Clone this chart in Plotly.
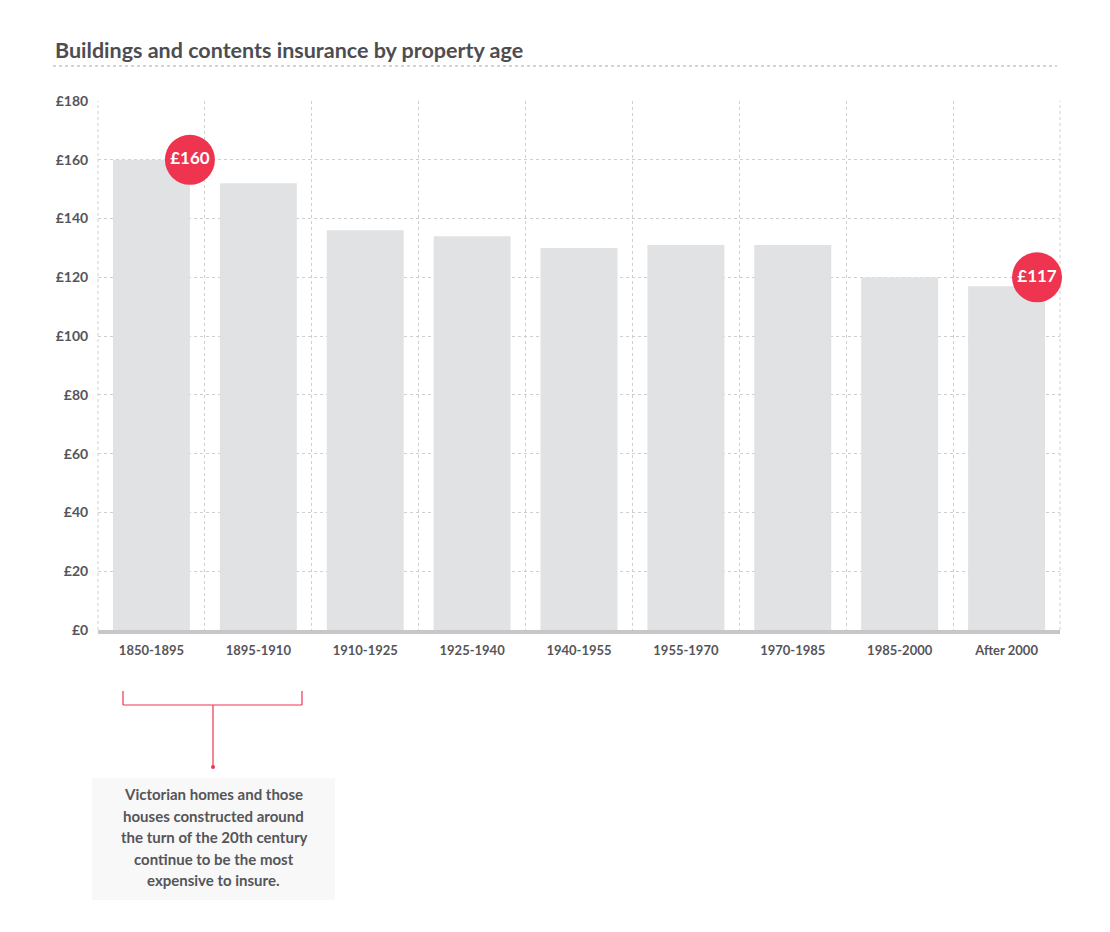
import plotly.graph_objects as go

# ---- data ----
categories = ["1850-1895", "1895-1910", "1910-1925", "1925-1940", "1940-1955",
              "1955-1970", "1970-1985", "1985-2000", "After 2000"]
premiums = [160, 152, 136, 134, 130, 131, 131, 120, 117]
y_ticks = [0, 20, 40, 60, 80, 100, 120, 140, 160, 180]
y_tick_labels = ["£" + str(v) for v in y_ticks]
highlight_idx = [0, 8]
title_text = "Buildings and contents insurance by property age"
note_lines = ["Victorian homes and those", "houses constructed around",
              "the turn of the 20th century", "continue to be the most",
              "expensive to insure."]

# ---- geometry (pixels of the page; the page body has an 8px margin) ----
OFF = 8
W, H = 1110 - 2 * OFF, 932 - 2 * OFF
L, R, T, B = 98, 1060, 101, 630   # plot area edges in page px


def px(x):
    return (x - L) / (R - L)


def py(y):
    return (B - y) / (B - T)


FONT = "Lato"
TXT = "#555559"
RED = "#ef344f"
GRID = "#cfcfd1"

x_pos = list(range(len(categories)))

fig = go.Figure()
fig.add_trace(go.Bar(
    x=x_pos, y=premiums, width=0.72,
    marker=dict(color="#e1e2e4", line=dict(width=0)),
    hoverinfo="skip", showlegend=False,
))

# badges
badge_dx = [0.36, 0.285]
badge_dy = [0, 3]
bx = [x_pos[i] + d for i, d in zip(highlight_idx, badge_dx)]
by = [premiums[i] + d for i, d in zip(highlight_idx, badge_dy)]
fig.add_trace(go.Scatter(
    x=bx, y=by, mode="markers+text",
    marker=dict(size=50, color=RED, line=dict(width=0)),
    text=["£" + str(premiums[i]) for i in highlight_idx],
    textposition="middle center",
    textfont=dict(family=FONT, size=17, color="white", weight="bold"),
    hoverinfo="skip", showlegend=False, cliponaxis=False,
))

fig.update_layout(
    width=W, height=H,
    margin=dict(l=L - OFF, r=W + OFF - R, t=T - OFF, b=H + OFF - B, pad=0),
    paper_bgcolor="white", plot_bgcolor="white",
    font=dict(family=FONT, color=TXT),
    xaxis=dict(
        range=[-0.5, len(categories) - 0.5],
        tickmode="array", tickvals=x_pos, ticktext=categories,
        tickfont=dict(family=FONT, size=13, color=TXT, weight="bold"),
        ticks="outside", ticklen=5, tickcolor="rgba(0,0,0,0)",
        showgrid=False, zeroline=False,
        showline=True, linewidth=4, linecolor="#c7c7c9",
        minor=dict(tick0=-0.5, dtick=1, showgrid=True, gridcolor=GRID,
                   griddash="dot", gridwidth=1, ticks=""),
        fixedrange=True,
    ),
    yaxis=dict(
        range=[0, 180],
        tickmode="array", tickvals=y_ticks, ticktext=y_tick_labels,
        tickfont=dict(family=FONT, size=14, color=TXT, weight="bold"),
        ticks="outside", ticklen=6, tickcolor="rgba(0,0,0,0)",
        showgrid=True, gridcolor=GRID, griddash="dot", gridwidth=1,
        zeroline=False, showline=False, fixedrange=True,
    ),
)

# edge gridlines (left / right borders of the plot area)
for xe in (0, 1):
    fig.add_shape(type="line", xref="paper", yref="paper", x0=xe, x1=xe, y0=0, y1=1,
                  line=dict(color=GRID, width=1, dash="dot"), layer="below")

# title and dotted rule
fig.add_annotation(
    xref="paper", yref="paper", x=px(53), y=py(50), xanchor="left", yanchor="middle",
    text=title_text, showarrow=False,
    font=dict(family=FONT, size=21.5, color="#4d4d51", weight="bold"),
)
fig.add_shape(type="line", xref="paper", yref="paper",
              x0=px(53), x1=px(1057), y0=py(66), y1=py(66),
              line=dict(color="#a9a9ab", width=1, dash="dot"))

# bracket
bracket = dict(color=RED, width=1.2)
fig.add_shape(type="line", xref="paper", yref="paper", x0=px(123), x1=px(302),
              y0=py(705), y1=py(705), line=bracket)
fig.add_shape(type="line", xref="paper", yref="paper", x0=px(123), x1=px(123),
              y0=py(691), y1=py(705), line=bracket)
fig.add_shape(type="line", xref="paper", yref="paper", x0=px(302), x1=px(302),
              y0=py(691), y1=py(705), line=bracket)
fig.add_shape(type="line", xref="paper", yref="paper", x0=px(213), x1=px(213),
              y0=py(705), y1=py(767), line=bracket)
fig.add_shape(type="circle", xref="paper", yref="paper",
              x0=px(211), x1=px(215), y0=py(765), y1=py(769),
              fillcolor=RED, line=dict(width=0))

# note box
fig.add_shape(type="rect", xref="paper", yref="paper",
              x0=px(92), x1=px(335), y0=py(778), y1=py(900),
              fillcolor="#f8f8f8", line=dict(width=0), layer="below")
for k, line in enumerate(note_lines):
    fig.add_annotation(
        xref="paper", yref="paper", x=px(213.5), y=py(794 + 21.5 * k),
        xanchor="center", yanchor="middle",
        text=line, showarrow=False, align="center",
        font=dict(family=FONT, size=15, color=TXT, weight="bold"),
    )

fig.write_html("out.html", config={"displayModeBar": False})
